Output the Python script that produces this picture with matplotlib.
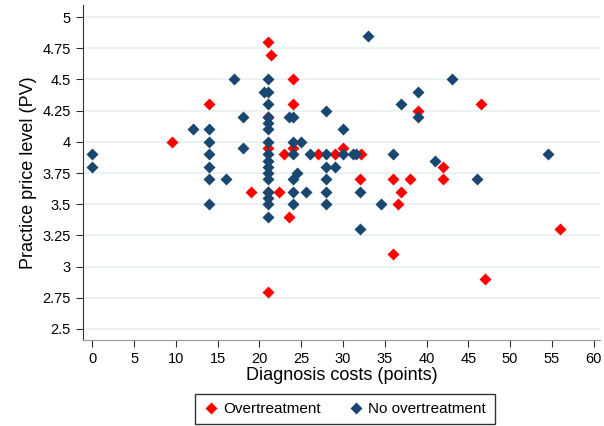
import matplotlib.pyplot as plt

plt.rcParams['font.family'] = ['Liberation Sans', 'DejaVu Sans']

# Overtreatment (red)
over_x = [9.5, 14, 19, 21, 21.4, 21, 21, 21, 21, 22.3, 23, 23.6, 24, 24, 24,
          27, 29, 30, 32.2, 32, 36, 36, 36.6, 37, 38, 39, 42, 42, 46.5, 47, 56]
over_y = [4.0, 4.3, 3.6, 4.8, 4.7, 4.2, 3.95, 3.6, 2.8, 3.6, 3.9, 3.4, 4.5, 4.3, 3.95,
          3.9, 3.9, 3.95, 3.9, 3.7, 3.7, 3.1, 3.5, 3.6, 3.7, 4.25, 3.8, 3.7, 4.3, 2.9, 3.3]

# No overtreatment (navy)
no_x = [0, 0, 12, 14, 14, 14, 14, 14, 14, 16, 17, 18, 18, 20.5,
        21, 21, 21, 21, 21, 21, 21, 21, 21, 21, 21, 21, 21, 21, 21, 21,
        23.5, 24, 24, 24, 24.5, 24, 24, 24, 25, 25.6, 26, 28, 28, 28, 28, 28, 28,
        29, 30, 30, 31.2, 31.6, 32, 32, 33, 34.6, 36, 37, 39, 39, 41, 43, 46, 54.5]
no_y = [3.9, 3.8, 4.1, 4.1, 4.0, 3.9, 3.8, 3.7, 3.5, 3.7, 4.5, 4.2, 3.95, 4.4,
        4.5, 4.4, 4.3, 4.2, 4.15, 4.1, 4.0, 3.9, 3.85, 3.8, 3.75, 3.7, 3.6, 3.55, 3.5, 3.4,
        4.2, 4.2, 4.0, 3.9, 3.75, 3.7, 3.6, 3.5, 4.0, 3.6, 3.9, 4.25, 3.9, 3.8, 3.7, 3.6, 3.5,
        3.8, 4.1, 3.9, 3.9, 3.9, 3.6, 3.3, 4.85, 3.5, 3.9, 4.3, 4.4, 4.2, 3.85, 4.5, 3.7, 3.9]

xticks = list(range(0, 61, 5))
yticks = [2.5, 2.75, 3, 3.25, 3.5, 3.75, 4, 4.25, 4.5, 4.75, 5]
ylabels = ['2.5', '2.75', '3', '3.25', '3.5', '3.75', '4', '4.25', '4.5', '4.75', '5']

fig = plt.figure(figsize=(6.04, 4.26), dpi=100)
ax = fig.add_axes([0.137, 0.202, 0.857, 0.786])

ax.plot(over_x, over_y, 'D', color='#ff0000', markersize=6.3, mec='none',
        label='Overtreatment', zorder=3)
ax.plot(no_x, no_y, 'D', color='#1a476f', markersize=6.3, mec='none',
        label='No overtreatment', zorder=4)

ax.set_xlim(-1.14, 60.8)
ax.set_ylim(2.412, 5.096)
ax.set_xticks(xticks)
ax.set_yticks(yticks)
ax.set_yticklabels(ylabels)
ax.tick_params(labelsize=10.5, length=5, color='#333333')
ax.yaxis.grid(True, color='#eaf2f3', linewidth=1.4)
ax.set_axisbelow(True)
for s in ['top', 'right']:
    ax.spines[s].set_visible(False)
ax.spines['left'].set_color('#333333')
ax.spines['bottom'].set_color('#999999')

ax.set_xlabel('Diagnosis costs (points)', fontsize=13, labelpad=1)
ax.set_ylabel('Practice price level (PV)', fontsize=13, labelpad=4)

handles, labels = ax.get_legend_handles_labels()
leg = fig.legend(handles, labels, loc='center', bbox_to_anchor=(0.571, 0.040), ncol=2,
                 fontsize=11, frameon=True, fancybox=False, edgecolor='black',
                 handletextpad=0.3, columnspacing=1.8, borderpad=0.55,
                 handlelength=1.0)
leg.get_frame().set_linewidth(1.0)

fig.savefig('out.png', dpi=100)
